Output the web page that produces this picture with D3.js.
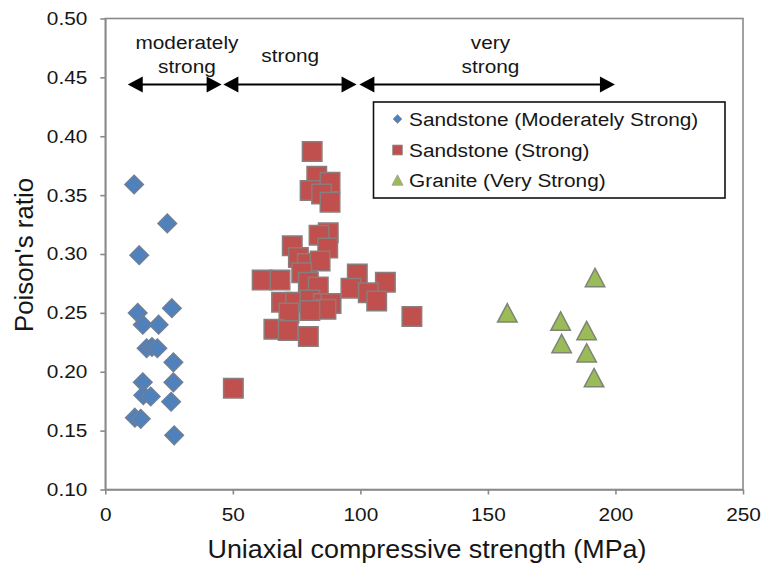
<!DOCTYPE html>
<html>
<head>
<meta charset="utf-8">
<script src="https://cdn.jsdelivr.net/npm/d3@7/dist/d3.min.js"></script>
<style>
  html, body { margin: 0; padding: 0; background: #fff; }
  svg { display: block; font-family: "Liberation Sans", Arial, sans-serif; }
</style>
</head>
<body>
<svg id="chart" width="763" height="568"></svg>
<script>
// Sandstone, moderately strong: UCS (MPa) and Poisson's ratio
const modUcs = [11.3, 24.3, 13.3, 12.7, 26.1, 14.7, 20.9, 16.2, 18.3, 20.4, 26.7, 14.7, 26.7, 14.9, 17.8, 25.8, 11.6, 13.9, 27.0];
const modNu  = [0.359, 0.326, 0.299, 0.250, 0.254, 0.240, 0.240, 0.220, 0.221, 0.220, 0.208, 0.191, 0.191, 0.180, 0.179, 0.1745, 0.161, 0.160, 0.146];

// Sandstone, strong
const strUcs = [81.1, 82.9, 88.1, 80.3, 84.8, 88.1, 87.4, 83.8, 73.3, 87.2, 75.7, 79.2, 84.2, 61.5, 68.5, 77.0, 79.6, 83.5, 98.8, 96.3, 109.8, 103.1, 106.4, 69.1, 74.6, 80.2, 85.5, 88.5, 86.5, 72.0, 80.2, 120.2, 66.1, 71.7, 79.6, 50.2];
const strNu  = [0.387, 0.366, 0.361, 0.354, 0.351, 0.344, 0.318, 0.316, 0.307, 0.305, 0.297, 0.292, 0.294, 0.278, 0.278, 0.284, 0.276, 0.272, 0.283, 0.271, 0.276, 0.267, 0.260, 0.259, 0.259, 0.261, 0.258, 0.258, 0.253, 0.250, 0.252, 0.247, 0.236, 0.235, 0.230, 0.186];

// Granite, very strong
const grUcs = [157.6, 178.5, 192.0, 188.7, 178.9, 188.7, 191.6];
const grNu  = [0.250, 0.243, 0.280, 0.235, 0.224, 0.216, 0.195];

// Axis ticks
const xTicks = [0, 50, 100, 150, 200, 250];
const yTicks = [0.10, 0.15, 0.20, 0.25, 0.30, 0.35, 0.40, 0.45, 0.50];

// Strength classes: arrow spans (MPa) and their labels
const classNames = [["moderately", "strong"], ["strong"], ["very", "strong"]];
const classFrom  = [8.8, 46.3, 99.6];
const classTo    = [45.6, 98.5, 199.8];
const classMid   = [32, 72.5, 151];
const arrowNu    = 0.444;

const seriesNames = ["Sandstone (Moderately Strong)", "Sandstone (Strong)", "Granite (Very Strong)"];

const svg = d3.select("#chart");
const x = d3.scaleLinear().domain([0, 250]).range([105.3, 743]);
const y = d3.scaleLinear().domain([0.10, 0.50]).range([489.5, 18.5]);

const axisColor = "#8a8a8a";
const textColor = "#161616";
const SX = 1.12; // horizontal text widening

// plot frame
svg.append("rect")
  .attr("x", x(0)).attr("y", y(0.5))
  .attr("width", x(250) - x(0)).attr("height", y(0.1) - y(0.5))
  .attr("fill", "none").attr("stroke", axisColor).attr("stroke-width", 1.6);

// axes
const gx = svg.append("g").attr("transform", `translate(0,${y(0.1)})`)
  .call(d3.axisBottom(x).tickValues(xTicks).tickFormat(d3.format("d"))
    .tickSize(5).tickSizeOuter(0).tickPadding(13.5));
const gy = svg.append("g").attr("transform", `translate(${x(0)},0)`)
  .call(d3.axisLeft(y).tickValues(yTicks).tickFormat(d3.format(".2f"))
    .tickSize(5).tickSizeOuter(0).tickPadding(11));
[gx, gy].forEach(g => {
  g.select(".domain").attr("stroke", axisColor).attr("stroke-width", 1.6);
  g.selectAll(".tick line").attr("stroke", axisColor).attr("stroke-width", 1.6);
  g.selectAll(".tick text")
    .attr("fill", textColor)
    .attr("font-size", 18.6)
    .attr("font-family", "Liberation Sans, Arial, sans-serif")
    .attr("transform", `scale(${SX},1)`);
});

// axis titles
svg.append("text")
  .attr("transform", `translate(427,558) scale(1.05,1)`)
  .attr("text-anchor", "middle").attr("font-size", 25.6).attr("fill", textColor)
  .text("Uniaxial compressive strength (MPa)");
svg.append("text")
  .attr("transform", `translate(33,255) rotate(-90)`)
  .attr("text-anchor", "middle").attr("font-size", 25.8).attr("fill", textColor)
  .text("Poison's ratio");

// markers
const diamond = s => `M0,${-s/2}L${s/2},0L0,${s/2}L${-s/2},0Z`;
const square = s => `M${-s/2},${-s/2}H${s/2}V${s/2}H${-s/2}Z`;
const triangle = s => `M0,${-s*0.47}L${s/2},${s*0.47}L${-s/2},${s*0.47}Z`;

const series = [
  { xs: modUcs, ys: modNu, shape: diamond, size: 18.5, fill: "#4f81bd", stroke: "#6e7f95" },
  { xs: strUcs, ys: strNu, shape: square, size: 19.5, fill: "#c0504d", stroke: "#8a7d7d" },
  { xs: grUcs,  ys: grNu,  shape: triangle, size: 19.5, fill: "#9bbb59", stroke: "#7d8576" }
];

series.forEach(s => {
  svg.append("g").selectAll("path")
    .data(d3.range(s.xs.length))
    .join("path")
    .attr("transform", i => `translate(${x(s.xs[i])},${y(s.ys[i])})`)
    .attr("d", s.shape(s.size))
    .attr("fill", s.fill)
    .attr("stroke", s.stroke)
    .attr("stroke-width", 1.5);
});

// strength-class arrows
const ay = y(arrowNu);
const headL = 15, headW = 8;
const ann = svg.append("g");
classFrom.forEach((a, i) => {
  const x0 = x(a), x1 = x(classTo[i]);
  ann.append("line")
    .attr("x1", x0 + headL - 1).attr("x2", x1 - headL + 1)
    .attr("y1", ay).attr("y2", ay)
    .attr("stroke", "#000").attr("stroke-width", 2);
  ann.append("path")
    .attr("d", `M${x0},${ay}L${x0 + headL},${ay - headW}L${x0 + headL},${ay + headW}Z`)
    .attr("fill", "#000");
  ann.append("path")
    .attr("d", `M${x1},${ay}L${x1 - headL},${ay - headW}L${x1 - headL},${ay + headW}Z`)
    .attr("fill", "#000");
  const lines = classNames[i];
  const baselines = lines.length === 1 ? [62] : [49, 73];
  lines.forEach((t, j) => {
    ann.append("text")
      .attr("transform", `translate(${x(classMid[i])},${baselines[j]}) scale(${SX},1)`)
      .attr("text-anchor", "middle").attr("font-size", 18.6).attr("fill", textColor)
      .text(t);
  });
});

// legend
const leg = svg.append("g");
leg.append("rect")
  .attr("x", 373.5).attr("y", 102).attr("width", 351.5).attr("height", 96)
  .attr("fill", "#fff").attr("stroke", "#111").attr("stroke-width", 1.6);
const legMarks = [
  { shape: diamond, size: 9, fill: "#4f81bd", cy: 119 },
  { shape: square, size: 10, fill: "#c0504d", cy: 150 },
  { shape: triangle, size: 11, fill: "#9bbb59", cy: 180 }
];
const legBase = [125.5, 156.5, 186.5];
seriesNames.forEach((name, i) => {
  leg.append("path")
    .attr("transform", `translate(397.5,${legMarks[i].cy})`)
    .attr("d", legMarks[i].shape(legMarks[i].size))
    .attr("fill", legMarks[i].fill)
    .attr("stroke", "#9a9a9a").attr("stroke-width", 0.8);
  leg.append("text")
    .attr("transform", `translate(409,${legBase[i]}) scale(${SX},1)`)
    .attr("font-size", 18.6).attr("fill", textColor)
    .text(name);
});
</script>
</body>
</html>
